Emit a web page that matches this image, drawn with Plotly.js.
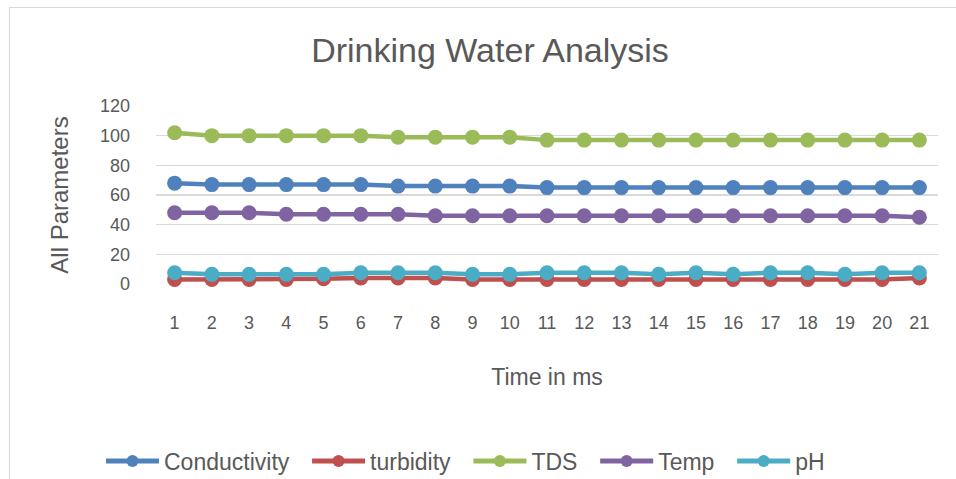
<!DOCTYPE html>
<html>
<head>
<meta charset="utf-8">
<script src="https://cdn.plot.ly/plotly-3.0.1.min.js"></script>
<style>
  html, body { margin: 0; padding: 0; background: #ffffff; overflow: hidden; }
  #chart { position: absolute; left: 0; top: 0; width: 956px; height: 479px; }
  #frame { position: absolute; left: 9px; top: 7px; width: 960px; height: 480px;
           border: 1px solid #d9d9d9; pointer-events: none; box-sizing: border-box; }
</style>
</head>
<body>
<div id="chart"></div>
<div id="frame"></div>
<script>
// ---- data ----
const timeMs = [1,2,3,4,5,6,7,8,9,10,11,12,13,14,15,16,17,18,19,20,21];
const tickLabels = ["1","2","3","4","5","6","7","8","9","10","11","12","13","14","15","16","17","18","19","20","21"];
const conductivity = [68,67,67,67,67,67,66,66,66,66,65,65,65,65,65,65,65,65,65,65,65];
const turbidity = [3,3,3,3,3.5,4,4,4,3,3,3,3,3,3,3,3,3,3,3,3,4];
const tds = [102,100,100,100,100,100,99,99,99,99,97,97,97,97,97,97,97,97,97,97,97];
const temp = [48,48,48,47,47,47,47,46,46,46,46,46,46,46,46,46,46,46,46,46,45];
const ph = [7.6,6.5,6.5,6.5,6.5,7.6,7.6,7.6,6.5,6.5,7.6,7.6,7.6,6.5,7.6,6.5,7.6,7.6,6.5,7.6,7.6];

const seriesNames = ["Conductivity","turbidity","TDS","Temp","pH"];
const seriesValues = [conductivity, turbidity, tds, temp, ph];
const seriesColors = ["#4F81BD","#C0504D","#9BBB59","#8064A2","#4BACC6"];

const FONT = '"Liberation Sans", Arial, sans-serif';
const TXT = '#595959';
const PAD = '\u00a0\u00a0';

const traces = seriesNames.map((name, i) => ({
  type: 'scatter',
  mode: 'lines+markers',
  name: name + PAD,
  x: timeMs,
  y: seriesValues[i],
  line: { color: seriesColors[i], width: 4.5 },
  marker: { color: seriesColors[i], size: 15 },
  cliponaxis: false
}));

const layout = {
  width: 956,
  height: 479,
  autosize: false,
  paper_bgcolor: '#ffffff',
  plot_bgcolor: '#ffffff',
  margin: { l: 156, r: 18, t: 106, b: 195, pad: 0 },
  font: { family: FONT, color: TXT, size: 18 },
  title: {
    text: 'Drinking Water Analysis',
    font: { family: FONT, size: 34, color: TXT },
    x: 490 / 956, xanchor: 'center', xref: 'container',
    y: 1 - 50 / 479, yanchor: 'middle', yref: 'container'
  },
  xaxis: {
    range: [0.5, 21.5],
    tickmode: 'array',
    tickvals: timeMs,
    ticktext: tickLabels,
    showgrid: false,
    zeroline: false,
    showline: false,
    ticks: '',
    ticklabelstandoff: 26,
    tickfont: { family: FONT, size: 18, color: TXT },
    title: { text: 'Time in ms', font: { family: FONT, size: 23, color: TXT }, standoff: 36 },
    fixedrange: true
  },
  yaxis: {
    range: [0, 120],
    tickmode: 'array',
    tickvals: [0,20,40,60,80,100,120],
    showgrid: true,
    gridcolor: '#d9d9d9',
    gridwidth: 1.3,
    zeroline: false,
    showline: false,
    ticks: '',
    ticklabelstandoff: 25,
    tickfont: { family: FONT, size: 18, color: TXT },
    title: { text: 'All Parameters', font: { family: FONT, size: 24, color: TXT }, standoff: 24 },
    fixedrange: true
  },
  showlegend: true,
  legend: {
    orientation: 'h',
    xref: 'container',
    x: 472 / 956, xanchor: 'center',
    y: 1 - 461 / 479, yanchor: 'middle', yref: 'container',
    font: { family: FONT, size: 23, color: TXT },
    itemwidth: 53,
    itemsizing: 'constant',
    bgcolor: 'rgba(0,0,0,0)'
  }
};

Plotly.newPlot('chart', traces, layout, { displayModeBar: false, staticPlot: true });
</script>
</body>
</html>
